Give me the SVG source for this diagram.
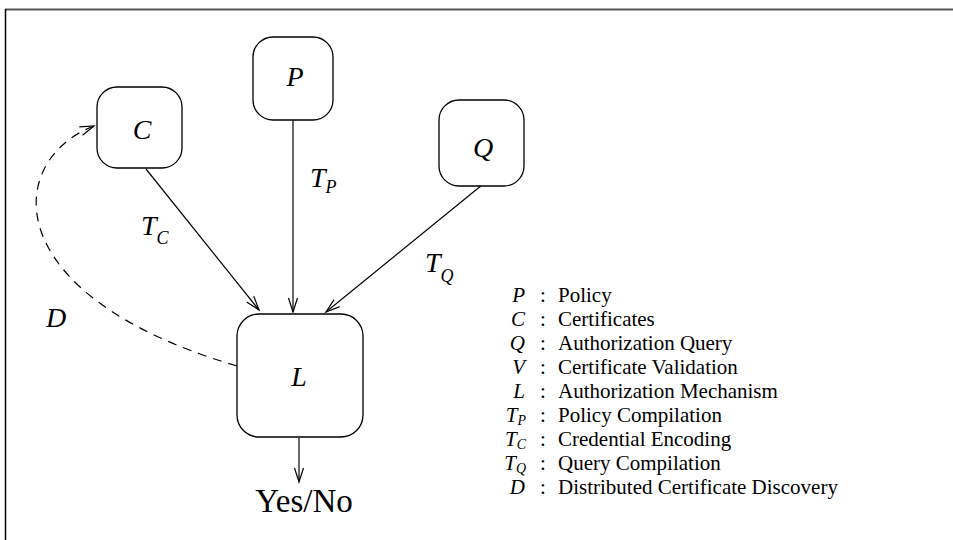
<svg xmlns="http://www.w3.org/2000/svg" width="953" height="540" viewBox="0 0 953 540">
<style>
.box{fill:#fff;stroke:#000;stroke-width:1.3}
.edge{fill:none;stroke:#000;stroke-width:1.2}
.lbl{font-family:"Liberation Serif",serif;font-style:italic;font-size:28px;fill:#000}
.sub{font-size:18px}
.sym{font-family:"Liberation Serif",serif;font-style:italic;font-size:21px;fill:#000;text-anchor:end}
.ssub{font-size:14px}
.txt{font-family:"Liberation Serif",serif;font-size:21px;fill:#000}
.out{font-family:"Liberation Serif",serif;font-size:33px;fill:#000;text-anchor:middle}
</style>
<defs>
<marker id="arr" markerUnits="userSpaceOnUse" markerWidth="20" markerHeight="14" refX="14" refY="7" orient="auto" overflow="visible">
<path d="M0,2.5 L14,7 L0,11.5" fill="none" stroke="#000" stroke-width="1.2"/>
</marker>
</defs>
<rect width="953" height="540" fill="#fff"/>
<line x1="5" y1="9.5" x2="953" y2="9.5" stroke="#555" stroke-width="2"/>
<line x1="5.5" y1="9" x2="5.5" y2="540" stroke="#000" stroke-width="1.5"/>

<g id="connectors">
<line class="edge" x1="146" y1="169" x2="259" y2="310" marker-end="url(#arr)"/>
<line class="edge" x1="293" y1="120" x2="293" y2="312" marker-end="url(#arr)"/>
<line class="edge" x1="482" y1="185" x2="326" y2="312" marker-end="url(#arr)"/>
<line class="edge" x1="299" y1="438" x2="299" y2="482" marker-end="url(#arr)"/>
<path class="edge" d="M237,366 C-5,295 5,160 94,126" stroke-dasharray="9,7" marker-end="url(#arr)"/>
</g>

<g id="node-C">
<rect class="box" x="97" y="87" width="85" height="81" rx="20"/>
<text class="lbl" x="142" y="139" text-anchor="middle">C</text>
</g>
<g id="node-P">
<rect class="box" x="253" y="37" width="80" height="83" rx="20"/>
<text class="lbl" x="295" y="86" text-anchor="middle">P</text>
</g>
<g id="node-Q">
<rect class="box" x="439" y="100" width="85" height="86" rx="20"/>
<text class="lbl" x="483" y="157" text-anchor="middle">Q</text>
</g>
<g id="node-L">
<rect class="box" x="237" y="314" width="126" height="123" rx="22"/>
<text class="lbl" x="299" y="386" text-anchor="middle">L</text>
</g>
<g id="node-out">
<text class="out" x="304" y="512">Yes/No</text>
</g>

<g id="edge-labels">
<text class="lbl" x="141" y="235">T<tspan class="sub" dy="9">C</tspan></text>
<text class="lbl" x="310" y="187">T<tspan class="sub" dy="6">P</tspan></text>
<text class="lbl" x="425" y="272">T<tspan class="sub" dy="10">Q</tspan></text>
<text class="lbl" x="46" y="327">D</text>
</g>

<g id="legend">
<text class="sym" x="525" y="302">P</text>
<text class="sym" x="525" y="326">C</text>
<text class="sym" x="525" y="350">Q</text>
<text class="sym" x="525" y="374">V</text>
<text class="sym" x="525" y="398">L</text>
<text class="sym" x="526" y="422">T<tspan class="ssub" dy="3">P</tspan></text>
<text class="sym" x="526" y="446">T<tspan class="ssub" dy="3">C</tspan></text>
<text class="sym" x="526" y="470">T<tspan class="ssub" dy="3">Q</tspan></text>
<text class="sym" x="525" y="494">D</text>
<text class="txt" x="540" y="302">:</text>
<text class="txt" x="540" y="326">:</text>
<text class="txt" x="540" y="350">:</text>
<text class="txt" x="540" y="374">:</text>
<text class="txt" x="540" y="398">:</text>
<text class="txt" x="540" y="422">:</text>
<text class="txt" x="540" y="446">:</text>
<text class="txt" x="540" y="470">:</text>
<text class="txt" x="540" y="494">:</text>
<text class="txt" x="558" y="302">Policy</text>
<text class="txt" x="558" y="326">Certificates</text>
<text class="txt" x="558" y="350">Authorization Query</text>
<text class="txt" x="558" y="374">Certificate Validation</text>
<text class="txt" x="558" y="398">Authorization Mechanism</text>
<text class="txt" x="558" y="422">Policy Compilation</text>
<text class="txt" x="558" y="446">Credential Encoding</text>
<text class="txt" x="558" y="470">Query Compilation</text>
<text class="txt" x="558" y="494">Distributed Certificate Discovery</text>
</g>
</svg>
